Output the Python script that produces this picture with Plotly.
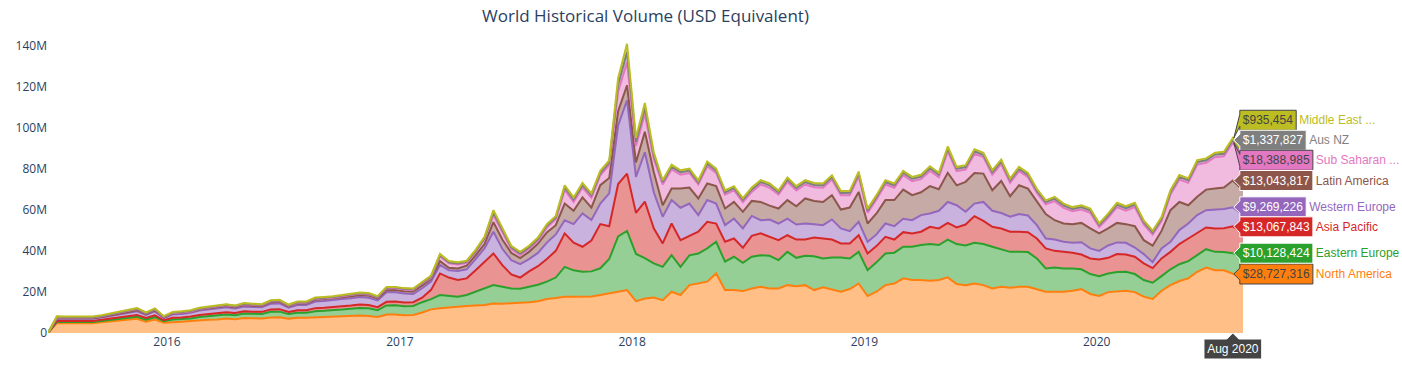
import pandas as pd
import plotly.graph_objects as go

# Biweekly observation dates (last two points: hovered week and final partial period)
dates = list(pd.date_range(end="2020-08-02", periods=134, freq="14D")) + [pd.Timestamp("2020-08-18")]

# Values in millions of USD
north_america = [
    0, 4.8, 4.8, 4.8, 4.9, 4.8, 5.2, 5.6, 6.0, 6.4,
    6.9, 5.5, 6.5, 5.0, 5.4, 5.5, 5.8, 6.2, 6.4, 6.6,
    7.0, 6.7, 7.3, 7.2, 7.1, 7.6, 7.7, 7.0, 7.4, 7.4,
    7.6, 7.7, 7.8, 8.0, 8.2, 8.5, 8.3, 7.8, 9.0, 9.0,
    8.6, 8.8, 10.0, 11.5, 12.0, 12.5, 12.8, 13.1, 13.4, 13.6,
    14.4, 14.2, 14.5, 14.6, 15.0, 15.5, 16.5, 17.0, 17.7, 17.7,
    17.7, 17.8, 18.5, 19.3, 20.3, 20.9, 15.5, 16.8, 17.3, 16.0,
    20.1, 18.5, 23.3, 24.1, 25.0, 29.0, 20.9, 20.9, 20.4, 21.7,
    22.5, 21.7, 21.7, 23.3, 22.8, 23.3, 20.9, 22.2, 21.2, 20.1,
    21.4, 24.1, 18.0, 20.1, 23.3, 24.1, 26.6, 25.8, 25.8, 25.4,
    25.8, 27.1, 23.8, 23.2, 24.1, 23.3, 21.7, 22.5, 22.0, 22.5,
    22.5, 21.2, 20.1, 20.1, 20.1, 20.6, 21.4, 19.0, 18.0, 19.9,
    20.1, 20.6, 19.9, 17.7, 16.6, 20.6, 23.3, 25.3, 26.6, 29.8,
    31.9, 30.6, 30.5, 28.727316, 27.0,
]
eastern_europe = [
    0, 0.6, 0.6, 0.6, 0.6, 0.6, 0.6, 0.7, 0.8, 0.9,
    1.0, 1.0, 1.2, 0.7, 1.2, 1.3, 1.3, 1.6, 1.8, 1.9,
    2.0, 2.0, 2.2, 2.2, 2.2, 2.7, 2.7, 2.2, 2.5, 2.5,
    3.0, 3.1, 3.2, 3.4, 3.6, 3.7, 3.7, 3.3, 4.4, 4.5,
    4.4, 4.4, 5.0, 5.0, 6.5, 5.5, 4.9, 5.4, 6.6, 8.1,
    8.9, 8.3, 7.2, 6.9, 7.5, 8.0, 8.5, 10.0, 14.5, 12.8,
    12.1, 12.2, 13.0, 16.7, 26.7, 28.8, 23.0, 19.7, 16.6, 16.2,
    17.8, 13.7, 14.5, 14.6, 16.2, 15.4, 13.8, 16.2, 13.8, 15.4,
    15.4, 15.9, 13.8, 16.2, 13.8, 14.3, 16.5, 14.1, 15.6, 16.7,
    14.9, 15.4, 12.6, 14.3, 15.4, 15.0, 15.4, 16.2, 17.0, 17.9,
    17.0, 18.4, 19.5, 19.4, 19.8, 20.0, 20.3, 18.2, 17.5, 17.0,
    16.9, 15.1, 11.3, 11.8, 11.3, 10.8, 9.6, 9.7, 9.7, 9.1,
    9.6, 9.2, 8.8, 8.1, 7.9, 7.1, 7.7, 8.2, 8.4, 8.1,
    8.9, 8.9, 8.9, 10.128424, 9.5,
]
asia_pacific = [
    0, 0.5, 0.5, 0.5, 0.5, 0.5, 0.6, 0.7, 0.7, 0.8,
    0.9, 0.8, 0.9, 0.5, 0.8, 0.8, 0.9, 1.0, 1.0, 1.0,
    1.1, 1.0, 1.1, 1.0, 1.0, 1.2, 1.2, 1.0, 1.2, 1.2,
    1.5, 1.5, 1.5, 1.6, 1.6, 1.7, 1.6, 1.5, 1.8, 1.8,
    1.8, 1.8, 2.2, 4.5, 10.5, 9.0, 8.1, 8.1, 10.5, 13.0,
    15.4, 10.5, 6.8, 5.5, 7.5, 9.0, 11.0, 13.0, 16.3, 13.5,
    12.2, 15.0, 21.5, 16.0, 25.5, 27.9, 20.0, 27.5, 17.1, 11.4,
    15.4, 13.0, 9.4, 10.6, 12.9, 8.9, 9.7, 8.9, 7.3, 10.2,
    10.6, 9.2, 9.7, 8.1, 8.9, 7.9, 9.1, 9.7, 8.7, 6.8,
    7.3, 8.1, 8.1, 7.9, 8.1, 6.4, 7.1, 6.5, 6.5, 8.4,
    8.1, 8.1, 8.1, 10.2, 13.0, 11.3, 9.7, 10.2, 9.8, 9.8,
    9.7, 9.7, 9.8, 8.1, 8.1, 7.7, 7.2, 7.6, 8.1, 7.6,
    8.7, 8.4, 8.4, 8.1, 7.1, 8.6, 8.5, 9.8, 11.0, 10.6,
    10.6, 11.4, 11.6, 13.067843, 12.3,
]
western_europe = [
    0, 1.1, 1.0, 1.0, 1.0, 1.0, 1.1, 1.3, 1.5, 1.5,
    1.8, 1.5, 1.9, 1.0, 1.7, 1.7, 1.8, 2.1, 2.2, 2.3,
    2.4, 2.2, 2.3, 2.3, 2.2, 2.7, 2.8, 2.1, 2.5, 2.5,
    3.2, 3.3, 3.4, 3.5, 3.5, 3.6, 3.6, 3.3, 4.6, 4.5,
    4.4, 4.0, 4.6, 4.0, 4.1, 3.5, 4.4, 4.4, 5.5, 6.5,
    10.6, 8.0, 7.0, 6.5, 6.0, 6.5, 8.0, 8.0, 6.4, 9.0,
    16.2, 10.0, 10.0, 16.0, 28.5, 35.7, 17.5, 24.0, 17.5, 13.0,
    11.4, 15.8, 15.8, 8.1, 10.6, 9.7, 8.1, 9.7, 9.4, 9.7,
    6.4, 8.4, 8.1, 8.1, 7.3, 7.8, 6.5, 6.5, 9.8, 7.3,
    6.0, 6.5, 5.7, 5.7, 6.5, 6.5, 6.5, 6.4, 8.1, 6.5,
    8.6, 10.2, 10.8, 6.2, 6.1, 9.2, 7.8, 7.5, 7.3, 8.6,
    8.1, 6.5, 4.8, 5.5, 4.9, 4.8, 6.0, 4.9, 4.2, 6.0,
    5.7, 5.7, 4.5, 4.5, 2.9, 4.9, 4.9, 6.8, 7.3, 8.9,
    8.4, 9.2, 9.4, 9.269226, 8.7,
]
latin_america = [
    0, 0.3, 0.3, 0.3, 0.3, 0.3, 0.3, 0.3, 0.3, 0.4,
    0.5, 0.4, 0.5, 0.3, 0.4, 0.5, 0.5, 0.5, 0.5, 0.6,
    0.6, 0.6, 0.7, 0.6, 0.6, 0.8, 0.8, 0.7, 0.8, 0.8,
    0.9, 0.9, 0.9, 0.9, 1.0, 1.0, 1.0, 0.9, 1.0, 1.1,
    1.1, 1.2, 1.3, 1.3, 1.9, 1.3, 1.2, 1.8, 1.8, 2.1,
    4.7, 4.5, 3.5, 3.0, 3.5, 4.5, 5.0, 4.5, 8.1, 6.5,
    7.8, 6.0, 9.0, 7.5, 7.0, 7.3, 7.0, 10.0, 9.9, 5.6,
    5.6, 9.3, 7.8, 8.1, 8.1, 8.5, 8.1, 8.1, 8.1, 7.3,
    8.9, 6.8, 7.3, 9.0, 8.9, 12.2, 11.3, 11.3, 11.8, 9.2,
    11.5, 14.6, 8.9, 10.2, 11.4, 12.7, 14.2, 12.2, 11.1, 13.3,
    10.5, 14.2, 9.7, 14.6, 14.9, 13.8, 10.0, 15.6, 10.0, 14.0,
    13.1, 11.3, 11.9, 9.4, 8.9, 9.1, 9.4, 9.7, 8.5, 8.3,
    9.5, 9.1, 10.4, 6.8, 8.0, 8.5, 15.4, 13.7, 8.9, 8.9,
    10.0, 10.2, 10.4, 13.043817, 12.0,
]
sub_saharan_africa = [
    0, 0.4, 0.3, 0.3, 0.3, 0.3, 0.3, 0.4, 0.5, 0.5,
    0.6, 0.3, 0.5, 0.2, 0.2, 0.2, 0.2, 0.3, 0.3, 0.4,
    0.4, 0.4, 0.4, 0.4, 0.4, 0.4, 0.4, 0.3, 0.3, 0.3,
    0.4, 0.4, 0.4, 0.5, 0.5, 0.6, 0.6, 0.5, 1.0, 0.9,
    0.9, 0.8, 1.1, 0.6, 2.4, 2.1, 2.0, 1.3, 1.6, 2.4,
    3.4, 3.8, 1.9, 1.4, 1.4, 1.4, 2.4, 2.9, 6.7, 4.3,
    4.8, 4.8, 4.8, 6.3, 9.5, 11.2, 8.0, 8.5, 6.3, 10.1,
    9.3, 6.8, 7.1, 6.8, 8.4, 6.4, 6.8, 5.6, 4.7, 4.4,
    8.5, 8.7, 6.8, 8.9, 7.7, 6.8, 6.7, 6.9, 7.6, 7.0,
    6.0, 7.6, 5.2, 6.8, 7.6, 6.0, 7.0, 6.8, 6.4, 7.4,
    5.9, 10.5, 6.9, 6.0, 9.3, 8.0, 7.6, 8.3, 6.5, 6.9,
    5.5, 4.4, 4.7, 9.3, 7.6, 6.3, 6.5, 7.6, 3.0, 5.2,
    7.7, 6.6, 9.3, 7.6, 5.4, 4.8, 7.6, 10.9, 10.9, 15.7,
    13.0, 15.3, 15.2, 18.388985, 16.5,
]
aus_nz = [
    0, 0.2, 0.2, 0.2, 0.2, 0.2, 0.2, 0.2, 0.2, 0.2,
    0.2, 0.2, 0.2, 0.2, 0.25, 0.25, 0.25, 0.25, 0.25, 0.25,
    0.25, 0.25, 0.25, 0.25, 0.25, 0.25, 0.25, 0.25, 0.3, 0.3,
    0.3, 0.3, 0.3, 0.3, 0.3, 0.3, 0.3, 0.3, 0.3, 0.3,
    0.3, 0.3, 0.3, 0.5, 0.5, 0.5, 0.5, 0.5, 0.5, 0.5,
    1.2, 0.8, 0.8, 0.8, 0.8, 0.8, 0.8, 0.8, 1.2, 1.2,
    1.2, 1.2, 1.2, 1.2, 3.5, 5.0, 2.0, 3.0, 1.8, 1.2,
    1.3, 1.2, 1.2, 1.1, 1.3, 1.2, 1.1, 1.2, 1.1, 1.2,
    1.2, 1.2, 1.1, 1.2, 1.2, 1.2, 1.1, 1.2, 1.2, 1.1,
    1.2, 1.3, 1.1, 1.2, 1.2, 1.2, 1.2, 1.2, 1.2, 1.3,
    1.2, 1.3, 1.2, 1.2, 1.3, 1.2, 1.2, 1.2, 1.2, 1.2,
    1.2, 1.1, 1.1, 1.2, 1.2, 1.1, 1.2, 1.2, 1.1, 1.1,
    1.2, 1.2, 1.2, 1.1, 1.1, 1.1, 1.2, 1.3, 1.3, 1.3,
    1.3, 1.3, 1.3, 1.337827, 1.2,
]
middle_east = [
    0, 0.3, 0.3, 0.3, 0.3, 0.3, 0.3, 0.3, 0.3, 0.3,
    0.3, 0.3, 0.3, 0.3, 0.3, 0.3, 0.3, 0.3, 0.3, 0.3,
    0.3, 0.3, 0.3, 0.3, 0.3, 0.3, 0.3, 0.3, 0.35, 0.35,
    0.35, 0.35, 0.35, 0.35, 0.35, 0.35, 0.35, 0.35, 0.35, 0.35,
    0.35, 0.35, 0.35, 0.6, 0.6, 0.6, 0.6, 0.6, 0.6, 0.6,
    1.2, 0.8, 0.8, 0.8, 0.8, 0.8, 0.8, 0.8, 1.0, 1.0,
    1.0, 1.0, 1.0, 1.0, 3.0, 4.0, 2.0, 2.5, 1.5, 0.9,
    1.0, 0.9, 0.9, 0.9, 1.0, 0.9, 0.9, 0.9, 0.9, 0.9,
    0.9, 0.9, 0.9, 0.9, 0.9, 0.9, 0.9, 0.9, 0.9, 0.9,
    0.9, 1.0, 0.9, 0.9, 0.9, 0.9, 0.9, 0.9, 0.9, 1.0,
    0.9, 1.0, 0.9, 0.9, 1.0, 0.9, 0.9, 0.9, 0.9, 0.9,
    0.9, 0.9, 0.9, 0.9, 0.9, 0.9, 0.9, 0.9, 0.8, 0.9,
    0.9, 0.9, 0.9, 0.9, 0.8, 0.8, 0.9, 0.9, 0.9, 0.9,
    0.9, 0.9, 0.9, 0.935454, 0.8,
]

regions = [
    ("North America", north_america, "#ff7f0e"),
    ("Eastern Europe", eastern_europe, "#2ca02c"),
    ("Asia Pacific", asia_pacific, "#d62728"),
    ("Western Europe", western_europe, "#9467bd"),
    ("Latin America", latin_america, "#8c564b"),
    ("Sub Saharan Africa", sub_saharan_africa, "#e377c2"),
    ("Aus NZ", aus_nz, "#7f7f7f"),
    ("Middle East & North Africa", middle_east, "#bcbd22"),
]

fig = go.Figure()
for name, vals, color in regions:
    fig.add_trace(go.Scatter(
        x=dates, y=[v * 1e6 for v in vals], name=name,
        stackgroup="one", mode="lines",
        line=dict(color=color, width=2),
        hovertemplate="$%{y:,.0f}<extra>%{fullData.name}</extra>",
        hoverlabel=dict(namelength=15),
    ))

fig.update_layout(
    template="plotly_white",
    width=1402, height=367,
    title=dict(text="World Historical Volume (USD Equivalent)", x=0.5, xref="paper",
               y=0.956, yanchor="middle", font=dict(size=17, color="#2a3f5f")),
    margin=dict(l=48, r=159, t=29, b=34),
    showlegend=False,
    hovermode="x",
    hoverlabel=dict(namelength=15, font=dict(size=12)),
    plot_bgcolor="white", paper_bgcolor="white",
    font=dict(family='"Open Sans", verdana, arial, sans-serif', color="#2a3f5f", size=12),
    xaxis=dict(showgrid=False, zeroline=False, hoverformat="%b %Y", tickformat="%Y",
               dtick="M12", ticks="", showline=False),
    yaxis=dict(showgrid=False, zeroline=False, range=[0, 148e6], dtick=20e6,
               ticks="", showline=False),
)

post = """
document.documentElement.style.margin = '0px';
document.documentElement.style.overflow = 'hidden';
document.body.style.margin = '0px';
document.body.style.padding = '0px';
document.body.style.overflow = 'hidden';
var gd = document.getElementById('{plot_id}');
function doHover() {
  try {
    var xms = Date.UTC(2020, 7, 2);
    if (window.Plotly && Plotly.Fx && Plotly.Fx.hover) {
      Plotly.Fx.hover(gd, {xval: xms}, 'xy');
    } else {
      var xa = gd._fullLayout.xaxis, ya = gd._fullLayout.yaxis;
      var drag = gd.querySelector('.nsewdrag');
      var r = drag.getBoundingClientRect();
      var px = xa.c2p(xms);
      drag.dispatchEvent(new MouseEvent('mousemove', {clientX: r.left + px, clientY: r.top + ya._length / 2, bubbles: true}));
    }
  } catch (e) { console.log(e); }
}
setTimeout(doHover, 150);
setTimeout(doHover, 600);
"""

fig.write_html("out.html", post_script=post, config={"displayModeBar": False})
